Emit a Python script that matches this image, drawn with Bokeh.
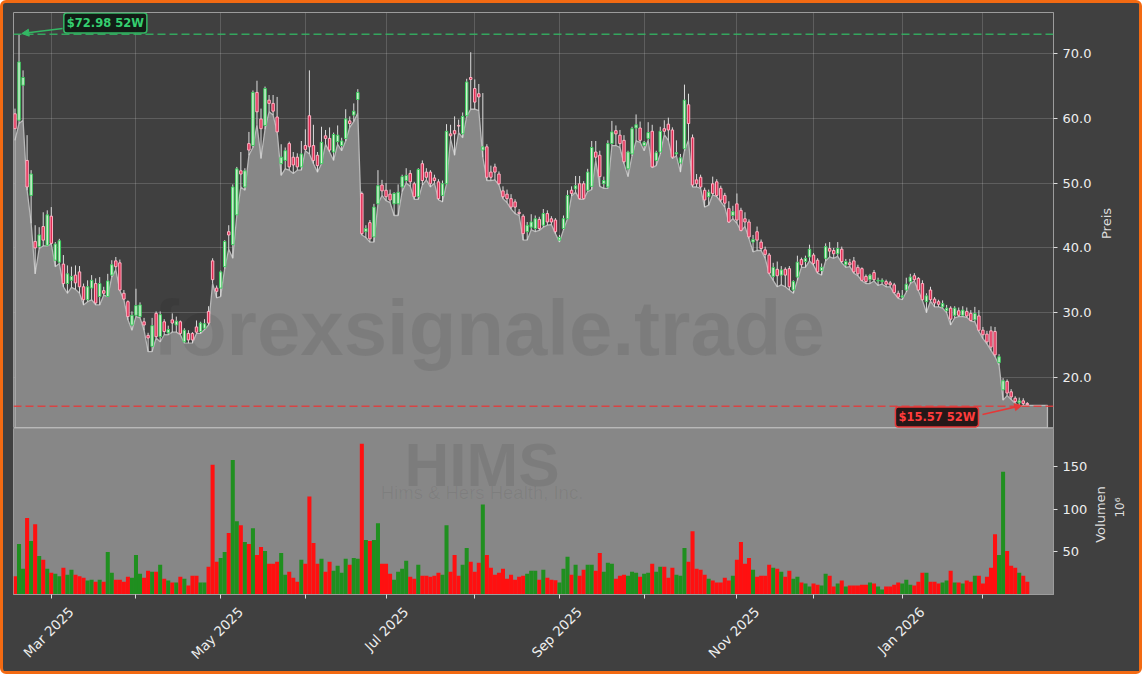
import math
from bokeh.plotting import figure
from bokeh.models import (Range1d, FixedTicker, LinearAxis, Span, Label, Arrow, NormalHead,
                          PrintfTickFormatter)
from bokeh.layouts import column, row
from bokeh.embed import file_html
from bokeh.resources import INLINE
from bokeh.core.properties import value

# ---------------- data (HIMS, daily, trading-day index) ----------------
opens = [
    60.7, 59.7, 65.1, 53.5, 48.1, 41.0, 40.2, 43.3, 40.4, 44.9,
    38.1, 37.8, 37.5, 34.5, 35.0, 35.8, 36.3, 34.0, 32.0, 33.8,
    34.5, 32.5, 33.4, 32.5, 35.8, 38.0, 37.7, 33.0, 31.7, 28.1,
    29.6, 29.4, 28.6, 26.5, 24.8, 29.9, 26.3, 28.6, 26.9, 28.9,
    28.1, 28.6, 25.5, 26.8, 26.8, 27.8, 27.1, 27.6, 30.2, 38.0,
    33.8, 33.8, 37.1, 42.5, 40.5, 45.1, 51.9, 49.4, 56.1, 55.8,
    64.0, 59.9, 58.9, 62.8, 62.3, 60.2, 53.0, 53.5, 56.1, 54.0,
    54.0, 52.5, 55.8, 60.4, 55.8, 54.3, 53.0, 57.3, 56.9, 54.8,
    56.4, 55.8, 56.9, 59.6, 60.5, 62.9, 48.4, 42.5, 43.9, 41.7,
    46.8, 49.7, 48.9, 48.3, 46.8, 46.8, 49.4, 50.4, 51.5, 49.9,
    47.9, 53.0, 51.7, 51.7, 50.8, 50.2, 48.1, 49.9, 57.6, 58.1,
    58.9, 57.6, 60.4, 66.3, 64.6, 63.8, 55.1, 55.6, 51.7, 52.5,
    51.4, 48.8, 48.3, 47.6, 47.1, 45.5, 44.9, 42.5, 43.2, 43.0,
    44.4, 43.5, 45.3, 44.5, 44.3, 41.2, 43.0, 44.5, 48.9, 49.1,
    49.9, 49.9, 48.9, 49.5, 54.8, 54.3, 49.9, 49.4, 56.1, 58.1,
    57.4, 56.6, 52.2, 54.5, 58.5, 58.5, 55.8, 56.9, 58.0, 53.5,
    54.8, 58.4, 59.1, 58.2, 54.5, 53.1, 55.3, 62.1, 57.0, 50.5,
    50.9, 48.9, 47.9, 49.9, 50.2, 49.2, 48.1, 46.1, 45.0, 46.8,
    45.8, 44.5, 44.0, 40.9, 42.5, 40.9, 39.7, 38.9, 35.6, 36.7,
    35.8, 36.7, 36.8, 33.5, 35.5, 38.2, 37.9, 38.6, 38.9, 38.1,
    36.5, 38.4, 39.9, 39.6, 39.1, 39.8, 37.4, 37.7, 38.0, 37.0,
    36.8, 35.6, 35.1, 36.2, 34.9, 34.8, 34.8, 34.6, 34.3, 33.0,
    32.4, 33.5, 34.8, 35.7, 35.3, 34.5, 31.7, 33.5, 32.1, 31.7,
    30.9, 30.3, 30.7, 29.6, 30.3, 29.6, 30.2, 29.9, 28.9, 29.5,
    27.3, 26.7, 27.2, 27.1, 22.3, 18.1, 19.4, 17.8, 16.8, 16.1,
    16.4, 16.0]
highs = [
    61.5, 72.98, 67.4, 57.4, 52.0, 43.5, 43.2, 45.5, 45.8, 46.3,
    40.9, 41.4, 38.9, 37.3, 37.1, 37.3, 37.2, 34.5, 35.0, 35.8,
    35.3, 35.5, 34.0, 36.0, 38.1, 38.6, 38.2, 33.5, 31.9, 30.2,
    33.7, 31.6, 29.2, 26.9, 29.2, 30.2, 30.2, 29.0, 28.0, 29.9,
    29.4, 28.8, 27.6, 27.3, 27.0, 28.8, 28.6, 29.0, 31.0, 38.4,
    34.2, 36.5, 41.2, 43.5, 49.8, 52.5, 54.8, 52.3, 57.9, 64.3,
    65.8, 61.5, 64.9, 63.6, 63.6, 63.3, 56.0, 55.5, 56.4, 54.8,
    54.6, 56.5, 58.3, 67.4, 59.0, 54.8, 58.7, 58.2, 58.6, 57.8,
    58.9, 57.0, 61.4, 60.3, 62.3, 64.5, 48.7, 43.5, 44.3, 46.8,
    52.0, 50.5, 50.0, 49.0, 48.6, 49.8, 51.3, 52.3, 52.0, 50.2,
    52.3, 53.5, 52.3, 52.0, 51.3, 50.6, 50.4, 59.1, 59.0, 60.3,
    59.8, 60.9, 66.1, 70.2, 66.0, 65.3, 63.9, 56.0, 52.7, 53.0,
    51.8, 49.5, 49.0, 48.3, 47.5, 46.0, 45.2, 44.0, 45.2, 45.0,
    44.8, 46.0, 45.8, 44.9, 44.6, 42.0, 45.0, 48.9, 49.5, 51.1,
    51.1, 50.3, 52.2, 56.5, 56.5, 55.0, 51.0, 56.6, 59.6, 58.9,
    58.2, 57.4, 55.0, 58.7, 60.6, 59.5, 56.5, 59.4, 59.0, 55.0,
    58.7, 59.7, 60.1, 58.6, 56.6, 54.5, 65.2, 63.8, 57.5, 51.4,
    51.3, 49.3, 49.0, 51.0, 50.6, 49.6, 48.5, 47.2, 46.5, 48.4,
    46.2, 45.5, 44.4, 42.0, 43.3, 41.3, 40.2, 39.2, 37.7, 37.9,
    37.2, 37.0, 37.2, 35.0, 38.8, 38.5, 38.8, 40.5, 39.2, 38.4,
    37.6, 40.7, 40.9, 40.0, 40.9, 40.2, 38.3, 38.3, 38.6, 37.4,
    37.0, 35.9, 36.0, 36.6, 35.4, 35.3, 35.1, 34.9, 34.6, 33.4,
    33.5, 35.4, 36.0, 36.1, 35.5, 35.0, 33.0, 34.0, 32.4, 32.0,
    31.9, 31.2, 31.0, 31.0, 30.8, 31.0, 30.8, 30.4, 30.9, 30.4,
    27.8, 27.2, 27.9, 27.8, 23.6, 19.9, 19.7, 18.2, 17.1, 16.9,
    16.8, 16.2]
lows = [
    56.6, 59.2, 59.7, 48.9, 43.8, 36.0, 39.9, 40.3, 40.3, 40.6,
    37.1, 37.6, 34.0, 33.0, 33.9, 33.6, 33.0, 31.2, 31.7, 32.0,
    31.2, 31.2, 32.7, 32.5, 35.5, 36.6, 33.4, 32.0, 28.9, 27.3,
    29.4, 29.2, 27.3, 24.0, 24.0, 26.1, 25.5, 26.6, 26.6, 27.0,
    27.0, 26.6, 25.3, 25.3, 25.3, 26.8, 26.8, 27.4, 28.1, 34.5,
    32.3, 32.5, 36.8, 39.8, 38.4, 45.0, 49.4, 48.9, 54.3, 55.5,
    59.0, 53.8, 58.3, 61.0, 60.5, 57.9, 51.2, 52.2, 52.0, 51.5,
    52.0, 52.0, 55.0, 54.5, 53.0, 51.7, 53.0, 56.0, 54.8, 53.5,
    56.0, 55.0, 56.5, 58.6, 59.5, 60.8, 42.0, 41.6, 40.9, 40.9,
    46.8, 48.1, 47.3, 47.0, 45.0, 45.0, 48.7, 50.0, 49.5, 47.5,
    47.5, 49.7, 50.5, 49.4, 50.0, 47.4, 47.1, 49.9, 56.8, 54.3,
    57.8, 57.0, 60.3, 61.4, 61.4, 61.2, 54.0, 50.4, 50.4, 50.5,
    49.7, 47.6, 47.0, 46.0, 45.3, 45.0, 41.2, 41.2, 42.8, 42.5,
    42.7, 43.2, 43.5, 43.6, 42.2, 40.9, 42.8, 44.5, 48.0, 48.6,
    47.5, 47.5, 48.7, 49.0, 53.5, 49.5, 49.2, 49.2, 55.8, 55.8,
    55.5, 53.0, 51.0, 54.2, 56.5, 56.3, 55.0, 56.6, 52.4, 52.7,
    54.5, 57.5, 56.6, 53.8, 54.2, 51.7, 55.0, 56.6, 49.4, 49.4,
    49.2, 46.3, 46.6, 48.2, 47.9, 47.1, 46.3, 43.9, 44.5, 43.8,
    42.6, 43.3, 41.4, 39.4, 39.6, 39.6, 38.4, 36.0, 35.0, 34.0,
    34.3, 34.0, 33.5, 33.0, 35.0, 37.0, 37.0, 38.0, 37.3, 36.1,
    35.8, 38.0, 38.6, 38.4, 38.7, 37.7, 37.0, 37.1, 36.1, 35.7,
    34.9, 34.5, 34.5, 34.9, 34.2, 34.4, 34.0, 34.0, 33.0, 32.2,
    32.0, 33.2, 34.5, 34.9, 33.4, 31.9, 30.0, 31.8, 30.9, 30.9,
    30.7, 30.0, 28.1, 29.2, 29.4, 29.4, 29.3, 28.7, 28.6, 27.1,
    26.0, 25.2, 24.2, 23.2, 21.9, 16.5, 17.2, 16.6, 16.0, 15.57,
    15.7, 15.7]
closes = [
    58.4, 68.7, 66.3, 49.4, 51.4, 40.0, 42.0, 41.2, 45.1, 40.7,
    40.6, 41.1, 34.5, 36.0, 35.6, 34.6, 34.0, 32.0, 34.0, 35.0,
    31.5, 34.5, 33.0, 34.9, 37.4, 37.1, 33.5, 32.1, 29.4, 29.6,
    31.1, 31.2, 28.1, 26.1, 28.0, 26.3, 29.7, 27.1, 27.4, 28.4,
    28.7, 26.8, 27.3, 25.8, 25.8, 27.0, 28.4, 28.3, 28.4, 35.1,
    33.3, 36.3, 41.0, 42.0, 49.4, 52.2, 51.4, 51.9, 55.1, 64.0,
    61.0, 58.4, 64.6, 62.3, 61.1, 57.9, 54.0, 55.0, 52.5, 52.8,
    52.5, 54.5, 55.2, 55.6, 53.5, 52.7, 56.3, 56.9, 55.1, 57.5,
    57.4, 56.5, 59.9, 59.2, 61.1, 64.0, 42.2, 43.0, 41.4, 46.3,
    49.6, 48.8, 47.9, 47.4, 48.4, 48.6, 51.0, 51.2, 50.2, 47.9,
    52.1, 50.4, 50.9, 49.9, 50.4, 47.6, 49.9, 58.0, 57.3, 57.6,
    58.8, 60.3, 65.6, 66.0, 62.5, 63.3, 55.6, 50.9, 50.9, 51.7,
    49.9, 47.9, 47.6, 46.3, 46.3, 45.3, 42.2, 43.5, 44.0, 44.5,
    43.0, 45.3, 44.0, 44.0, 42.5, 41.6, 44.5, 48.1, 48.4, 49.6,
    47.6, 47.6, 51.7, 55.5, 54.0, 51.0, 50.4, 56.1, 57.9, 57.6,
    56.1, 53.3, 54.8, 58.4, 59.0, 56.6, 56.3, 57.8, 52.5, 54.7,
    58.0, 58.0, 58.2, 54.0, 54.7, 53.9, 62.8, 59.2, 49.7, 49.9,
    49.4, 47.4, 48.6, 48.4, 48.1, 47.4, 46.9, 44.0, 45.6, 44.3,
    42.7, 44.0, 41.7, 41.3, 41.2, 39.9, 39.0, 36.1, 37.0, 35.7,
    36.6, 35.8, 34.0, 34.8, 37.8, 37.4, 38.4, 39.8, 37.6, 36.3,
    37.0, 40.2, 39.5, 39.1, 39.9, 37.9, 37.9, 37.4, 36.3, 36.0,
    35.0, 34.8, 35.8, 35.1, 35.0, 35.0, 34.4, 34.3, 33.1, 32.4,
    32.6, 34.4, 35.5, 35.1, 33.5, 32.0, 32.6, 32.0, 31.5, 31.3,
    31.4, 30.7, 29.0, 30.7, 29.6, 30.4, 29.5, 28.8, 29.9, 27.3,
    26.6, 25.5, 24.7, 23.5, 23.2, 19.5, 17.6, 17.0, 16.3, 16.4,
    16.0, 15.8]
volumes = [  # millions
    21.3, 59.3, 30.2, 89.9, 62.8, 82.5, 45.3, 40.7, 30.2, 25.6,
    24.4, 21.3, 31.4, 23.3, 29.1, 23.3, 21.3, 19.8, 16.3, 17.4,
    15.1, 17.4, 15.1, 50.0, 25.6, 17.4, 17.4, 15.1, 20.9, 19.8,
    46.5, 24.4, 19.8, 27.9, 26.7, 26.7, 34.9, 18.6, 16.3, 14.0,
    14.0, 20.9, 18.6, 10.5, 22.1, 22.1, 14.0, 14.0, 32.6, 152.3,
    38.4, 43.0, 50.0, 72.1, 158.1, 86.0, 81.4, 61.6, 59.3, 77.9,
    46.5, 55.8, 51.2, 36.0, 36.0, 38.4, 48.8, 23.3, 26.7, 19.8,
    15.1, 40.7, 36.0, 115.1, 60.5, 36.0, 41.9, 26.7, 38.4, 27.9,
    33.7, 25.6, 41.9, 34.9, 43.0, 41.9, 177.1, 63.9, 62.8, 63.9,
    83.7, 36.0, 36.0, 24.4, 17.4, 26.7, 30.2, 39.5, 20.9, 18.6,
    34.9, 22.1, 22.1, 20.9, 22.1, 25.6, 23.3, 81.4, 26.7, 46.5,
    22.1, 34.9, 54.7, 38.4, 26.7, 37.2, 105.8, 46.5, 31.4, 23.3,
    25.6, 30.2, 18.6, 23.3, 17.4, 20.9, 22.1, 24.4, 27.9, 27.9,
    17.4, 29.1, 19.8, 17.4, 16.7, 14.0, 30.2, 44.2, 23.3, 34.9,
    22.1, 29.1, 34.9, 34.9, 27.9, 48.8, 26.7, 37.2, 36.0, 18.6,
    22.1, 23.3, 22.1, 26.7, 25.6, 20.9, 24.4, 25.6, 36.0, 26.7,
    32.6, 32.6, 19.8, 31.4, 23.3, 22.1, 54.7, 38.4, 74.4, 30.2,
    29.1, 23.3, 18.6, 16.3, 14.0, 14.0, 19.8, 16.3, 22.1, 40.7,
    61.6, 36.0, 43.0, 29.1, 20.9, 22.1, 22.1, 34.9, 31.4, 30.2,
    26.7, 20.9, 27.9, 18.6, 20.9, 14.0, 12.8, 9.3, 12.8, 11.6,
    10.5, 24.4, 22.1, 9.3, 12.8, 16.3, 9.3, 10.5, 10.5, 10.5,
    11.6, 11.6, 14.0, 12.8, 9.3, 5.8, 9.3, 9.3, 11.6, 14.0,
    12.8, 17.4, 11.6, 10.5, 15.1, 25.6, 25.6, 15.1, 15.1, 12.8,
    14.0, 16.3, 27.9, 14.0, 14.0, 12.8, 16.3, 15.1, 22.1, 22.1,
    12.8, 20.9, 31.4, 70.9, 46.5, 144.2, 51.2, 33.7, 31.4, 25.6,
    22.1, 15.1]

# first trading day of each month (index) and the tick labels
month_ticks = [9, 30, 51, 72, 92, 114, 135, 156, 179, 198, 220, 240]
month_labels = ["Mar 2025", "", "May 2025", "", "Jul 2025", "", "Sep 2025", "",
                "Nov 2025", "", "Jan 2026", ""]
price_ticks = [20, 30, 40, 50, 60, 70]
volume_ticks = [50, 100, 150]
ticker_symbol = "HIMS"
company_name = "Hims & Hers Health, Inc."
watermark = "forexsignale.trade"
price_title = "Preis"
volume_title = "Volumen"
volume_scale = "10\u2076"

# ---------------- styling ----------------
BG = "#404040"
FILL = "#878787"
AXC = "#9c9c9c"
TXT = "#eeeeee"
UP_FILL, UP_LINE = "#d6efd6", "#3ccf5e"
DN_FILL, DN_LINE = "#e02a52", "#ffb3c4"
VOL_UP, VOL_DN = "#1f8f1f", "#ff1010"
GREEN, RED = "#33b864", "#e63838"
FONT = "DejaVu Sans"

n = len(closes)
idx = list(range(n))
up = [c >= o for o, c in zip(opens, closes)]
X0, X1 = -0.37, 257.5
MAIN_W = 1091

p = figure(width=MAIN_W, height=425, x_range=Range1d(X0, X1), y_range=Range1d(12.13, 76.33),
           output_backend="svg", toolbar_location=None, x_axis_location=None,
           y_axis_location="right", min_border_left=10, min_border_right=40,
           min_border_top=9, min_border_bottom=0, background_fill_color=BG,
           border_fill_color=BG, outline_line_color=AXC)
p.xgrid.ticker = FixedTicker(ticks=month_ticks)
p.grid.grid_line_color = "#ffffff"
p.grid.grid_line_alpha = 0.16
p.yaxis.ticker = FixedTicker(ticks=price_ticks)
p.yaxis.formatter = PrintfTickFormatter(format="%.1f")

# area under the lows
fill_end = n + 4
base = 12.25
fx = idx + [fill_end, fill_end, 0]
fy = lows + [lows[-1], base, base]
p.patch(fx, fy, fill_color=FILL, line_color="#b8b8b8", line_width=1.3)

p.text(x=[117.5], y=[27.6], text=[watermark], text_font=value("Liberation Sans"),
       text_font_style="bold", text_font_size="78px", text_color="#000000",
       text_alpha=0.075, text_align="center", text_baseline="middle")

# candles
p.segment(idx, highs, idx, lows, line_color="#dcdcdc", line_width=1)
p.vbar(x=idx, width=0.6,
       top=[max(o, c) for o, c in zip(opens, closes)],
       bottom=[min(o, c) for o, c in zip(opens, closes)],
       fill_color=[UP_FILL if u else DN_FILL for u in up],
       line_color=[UP_LINE if u else DN_LINE for u in up], line_width=1)

# 52 week high / low
hi_val = max(highs)
lo_val = min(lows)
hi_i = highs.index(hi_val)
lo_i = lows.index(lo_val)
p.add_layout(Span(location=hi_val, dimension="width", line_color=GREEN,
                  line_dash="8 4", line_width=1.5, line_alpha=0.85))
p.add_layout(Span(location=lo_val, dimension="width", line_color=RED,
                  line_dash="8 4", line_width=1.5, line_alpha=0.85))
p.add_layout(Arrow(end=NormalHead(size=7, fill_color=GREEN, line_color=GREEN),
                   x_start=hi_i + 10.8, y_start=hi_val + 0.88, x_end=hi_i + 0.7, y_end=hi_val + 0.1,
                   line_color=GREEN, line_width=1.5))
p.add_layout(Arrow(end=NormalHead(size=7, fill_color=RED, line_color=RED),
                   x_start=lo_i - 9.1, y_start=lo_val - 1.28, x_end=lo_i + 0.6, y_end=lo_val + 0.1,
                   line_color=RED, line_width=1.5))
lab_kw = dict(text_font=FONT, text_font_style="bold", text_font_size="11.5px",
              text_align="center", text_baseline="middle", background_fill_alpha=0.92,
              border_line_width=1.5, padding=3, border_radius=3)
p.add_layout(Label(x=hi_i + 21.4, y=hi_val + 1.73, text=f"${hi_val:.2f} 52W", text_color="#35d070",
                   background_fill_color="#0e1a12", border_line_color=GREEN, **lab_kw))
p.add_layout(Label(x=lo_i - 20.4, y=lo_val - 1.66, text=f"${lo_val:.2f} 52W", text_color="#ff3c3c",
                   background_fill_color="#1c0e0e", border_line_color=RED, **lab_kw))

# ---------------- volume panel ----------------
v = figure(width=MAIN_W, height=243, x_range=p.x_range, y_range=Range1d(0, 195),
           output_backend="svg", toolbar_location=None, x_axis_location="below",
           y_axis_location="right", min_border_left=10, min_border_right=40,
           min_border_top=0, min_border_bottom=77, background_fill_color=FILL,
           border_fill_color=BG, outline_line_color=AXC)
v.grid.visible = False
v.add_layout(Label(x=115.8, y=152.6, text=ticker_symbol, text_font="Liberation Sans",
                   text_font_style="bold", text_font_size="62px", text_color="#000000",
                   text_alpha=0.08, text_align="center", text_baseline="middle",
                   level="underlay"))
v.add_layout(Label(x=115.8, y=119.5, text=company_name, text_font="Liberation Sans",
                   text_font_size="18.5px", text_color="#000000", text_alpha=0.06,
                   text_align="center", text_baseline="middle", level="underlay"))
v.vbar(x=idx, width=1.0, top=volumes, bottom=0,
       fill_color=[VOL_UP if u else VOL_DN for u in up], line_color=None)
v.yaxis.ticker = FixedTicker(ticks=volume_ticks)

# x axis: month tick marks, then the rotated labels centred on their ticks
xa = v.xaxis[0]
xa.ticker = FixedTicker(ticks=[], minor_ticks=month_ticks)
xa.minor_tick_out = 4
xa.minor_tick_in = 0
xa.minor_tick_line_color = "#dddddd"
xa.major_label_standoff = 0
shift = 4.9
v.extra_x_ranges = {"lbl": Range1d(X0 - shift, X1 - shift)}
lab_ticks = [t for t, s in zip(month_ticks, month_labels) if s]
xl = LinearAxis(x_range_name="lbl", ticker=FixedTicker(ticks=lab_ticks),
                major_label_overrides={t: s for t, s in zip(month_ticks, month_labels) if s},
                major_label_orientation=math.pi / 4, major_tick_line_color=None,
                minor_tick_line_color=None, axis_line_color=None, major_label_standoff=5)
v.add_layout(xl, "below")

for fig in (p, v):
    for ax in fig.axis:
        if ax is not xl:
            ax.axis_line_color = AXC
        if ax is not xl and ax is not xa:
            ax.major_tick_line_color = "#dddddd"
            ax.minor_tick_line_color = None
            ax.major_tick_out = 4
            ax.major_tick_in = 0
        ax.major_label_text_color = TXT
        ax.major_label_text_font = FONT
        ax.major_label_text_font_size = "13.5px" if ax is xl else "13px"

# ---------------- strip on the right holding the axis titles (read bottom-to-top) ----------------
s = figure(width=45, height=668, x_range=Range1d(1094, 1139), y_range=Range1d(671, 3),
           output_backend="svg", toolbar_location=None, x_axis_location=None,
           y_axis_location=None, min_border=0, background_fill_color=BG,
           border_fill_color=BG, outline_line_color=None)
s.grid.visible = False
s.text(x=[1106], y=[223], text=[price_title], angle=math.pi / 2, text_font=value(FONT),
       text_font_size="13px", text_color="#dddddd", text_align="center", text_baseline="middle")
s.text(x=[1100], y=[514], text=[volume_title], angle=math.pi / 2, text_font=value(FONT),
       text_font_size="13px", text_color="#dddddd", text_align="center", text_baseline="middle")
s.text(x=[1119], y=[507], text=[volume_scale], angle=math.pi / 2, text_font=value(FONT),
       text_font_size="12px", text_color="#dddddd", text_align="center", text_baseline="middle")

layout = row(column(p, v, spacing=0), s, spacing=0,
             styles={"background-color": BG, "border": "3px solid #f36a12",
                     "border-radius": "6px"})
open("out.html", "w").write(file_html(layout, INLINE, title="HIMS"))
